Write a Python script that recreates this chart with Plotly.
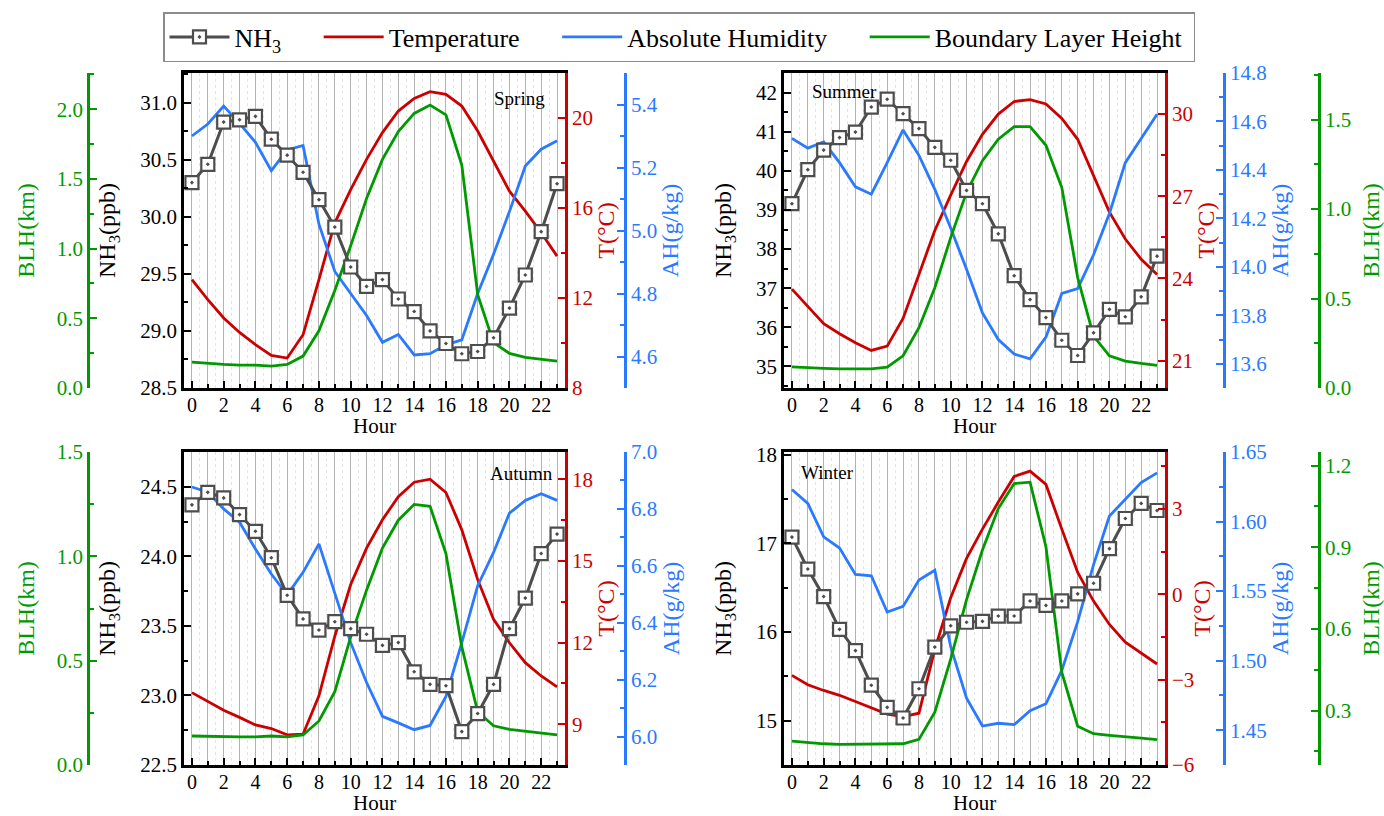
import plotly.graph_objects as go

# %% Data ----------------------------------------------------------------------
hours = list(range(24))

nh3_spring = [30.30, 30.46, 30.83, 30.85, 30.88, 30.68, 30.54, 30.39, 30.15, 29.91, 29.56, 29.39,
              29.45, 29.28, 29.17, 29.00, 28.89, 28.80, 28.82, 28.94, 29.20, 29.49, 29.87, 30.29]
temp_spring = [12.82, 11.93, 11.11, 10.47, 9.93, 9.45, 9.33, 10.37, 12.82, 15.34, 16.82, 18.16,
               19.35, 20.31, 20.87, 21.17, 21.05, 20.53, 19.42, 18.08, 16.75, 15.86, 14.90, 13.86]
ah_spring = [5.300, 5.338, 5.395, 5.340, 5.280, 5.190, 5.256, 5.270, 5.020, 4.870, 4.800, 4.730,
             4.645, 4.670, 4.605, 4.609, 4.637, 4.653, 4.800, 4.925, 5.060, 5.205, 5.258, 5.285]
blh_spring = [0.185, 0.176, 0.169, 0.164, 0.164, 0.157, 0.169, 0.229, 0.41, 0.70, 1.02, 1.36,
              1.64, 1.84, 1.97, 2.03, 1.96, 1.60, 0.67, 0.325, 0.248, 0.22, 0.205, 0.193]

nh3_summer = [39.16, 40.03, 40.53, 40.85, 40.99, 41.63, 41.83, 41.46, 41.08, 40.60, 40.27, 39.50,
              39.16, 38.39, 37.32, 36.71, 36.25, 35.67, 35.28, 35.86, 36.46, 36.27, 36.78, 37.82]
temp_summer = [23.61, 22.97, 22.35, 21.98, 21.65, 21.37, 21.53, 22.54, 24.14, 25.75, 27.04, 28.27,
               29.26, 30.00, 30.46, 30.53, 30.37, 29.84, 29.08, 27.78, 26.42, 25.44, 24.70, 24.14]
ah_summer = [14.53, 14.49, 14.516, 14.43, 14.33, 14.30, 14.43, 14.565, 14.46, 14.32, 14.16, 13.99,
             13.81, 13.70, 13.64, 13.62, 13.71, 13.89, 13.91, 14.05, 14.22, 14.43, 14.53, 14.63]
blh_summer = [0.118, 0.112, 0.110, 0.107, 0.107, 0.107, 0.116, 0.18, 0.337, 0.56, 0.84, 1.094,
              1.27, 1.39, 1.46, 1.46, 1.356, 1.12, 0.617, 0.29, 0.18, 0.15, 0.137, 0.126]

nh3_autumn = [24.37, 24.46, 24.42, 24.30, 24.18, 23.99, 23.72, 23.55, 23.47, 23.53, 23.48, 23.44,
              23.36, 23.38, 23.17, 23.08, 23.07, 22.74, 22.87, 23.08, 23.48, 23.70, 24.02, 24.16]
temp_autumn = [10.16, 9.83, 9.51, 9.25, 8.97, 8.84, 8.61, 8.63, 10.04, 12.23, 14.13, 15.47,
               16.51, 17.36, 17.89, 18.00, 17.51, 16.14, 14.31, 12.85, 11.99, 11.26, 10.77, 10.37]
ah_autumn = [6.877, 6.859, 6.800, 6.753, 6.659, 6.571, 6.498, 6.577, 6.677, 6.506, 6.330, 6.190,
             6.071, 6.048, 6.024, 6.039, 6.141, 6.330, 6.530, 6.647, 6.785, 6.830, 6.853, 6.830]
blh_autumn = [0.139, 0.137, 0.135, 0.135, 0.135, 0.139, 0.135, 0.144, 0.211, 0.351, 0.614, 0.838,
              1.04, 1.173, 1.249, 1.24, 1.013, 0.566, 0.255, 0.188, 0.171, 0.163, 0.152, 0.144]

nh3_winter = [17.07, 16.71, 16.40, 16.03, 15.79, 15.40, 15.15, 15.03, 15.36, 15.83, 16.07, 16.11,
              16.12, 16.18, 16.18, 16.35, 16.30, 16.35, 16.43, 16.55, 16.94, 17.28, 17.45, 17.37]
temp_winter = [-2.85, -3.18, -3.38, -3.55, -3.77, -4.00, -4.21, -4.30, -4.18, -1.94, -0.12, 1.26,
               2.29, 3.24, 4.14, 4.33, 3.86, 2.29, 0.77, -0.24, -1.06, -1.68, -2.06, -2.45]
ah_winter = [1.623, 1.613, 1.589, 1.581, 1.562, 1.561, 1.535, 1.539, 1.558, 1.565, 1.510, 1.473,
             1.453, 1.455, 1.454, 1.464, 1.469, 1.493, 1.528, 1.569, 1.604, 1.616, 1.628, 1.635]
blh_winter = [0.188, 0.182, 0.178, 0.176, 0.176, 0.176, 0.178, 0.178, 0.194, 0.294, 0.489, 0.708,
              0.89, 1.042, 1.134, 1.139, 0.902, 0.44, 0.242, 0.215, 0.209, 0.205, 0.199, 0.193]

# %% Style / layout -------------------------------------------------------------
W, H = 1384, 816
FONT = "Liberation Serif"
C_NH3 = "#4d4d4d"
C_T = "#cc0000"
C_AH = "#2a7aff"
C_BLH = "#009a00"
TICK = 21
TITLE = 24
PAD = "\u00a0"  # keeps legend entries spaced like the original

top_y = [1 - 388 / H, 1 - 73 / H]
bot_y = [1 - 765 / H, 1 - 452 / H]
left_x = [184 / W, 565 / W]
right_x = [784 / W, 1165 / W]

panels = [
    dict(label="Spring", nh3=nh3_spring, t=temp_spring, ah=ah_spring, blh=blh_spring,
         xdom=left_x, ydom=top_y, ah_pos=625 / W, blh_pos=88 / W, blh_side="left",
         nh3_rng=[28.5, 31.26], nh3_dt=0.5, nh3_fmt=".1f",
         t_rng=[8, 22], t_dt=4, ah_rng=[4.5, 5.5], ah_dt=0.2, ah_t0=4.6, ah_fmt=".1f",
         blh_rng=[0, 2.26], blh_dt=0.5, blh_t0=0, lab=(0.88, 0.92), hour_dy=-38),
    dict(label="Summer", nh3=nh3_summer, t=temp_summer, ah=ah_summer, blh=blh_summer,
         xdom=right_x, ydom=top_y, ah_pos=1224 / W, blh_pos=1319 / W, blh_side="right",
         nh3_rng=[34.45, 42.5], nh3_dt=1, nh3_fmt="d",
         t_rng=[20, 31.5], t_dt=3, ah_rng=[13.5, 14.8], ah_dt=0.2, ah_t0=13.6, ah_fmt=".1f",
         blh_rng=[0, 1.76], blh_dt=0.5, blh_t0=0, lab=(0.16, 0.94), hour_dy=-38),
    dict(label="Autumn", nh3=nh3_autumn, t=temp_autumn, ah=ah_autumn, blh=blh_autumn,
         xdom=left_x, ydom=bot_y, ah_pos=625 / W, blh_pos=88 / W, blh_side="left",
         nh3_rng=[22.5, 24.75], nh3_dt=0.5, nh3_fmt=".1f",
         t_rng=[7.5, 19], t_dt=3, ah_rng=[5.9, 7.0], ah_dt=0.2, ah_t0=6.0, ah_fmt=".1f",
         blh_rng=[0, 1.5], blh_dt=0.5, blh_t0=0, lab=(0.885, 0.93), hour_dy=-38),
    dict(label="Winter", nh3=nh3_winter, t=temp_winter, ah=ah_winter, blh=blh_winter,
         xdom=right_x, ydom=bot_y, ah_pos=1224 / W, blh_pos=1319 / W, blh_side="right",
         nh3_rng=[14.5, 18.03], nh3_dt=1, nh3_fmt="d",
         t_rng=[-6, 5], t_dt=3, ah_rng=[1.425, 1.65], ah_dt=0.05, ah_t0=1.45, ah_fmt=".2f",
         blh_rng=[0.1, 1.25], blh_dt=0.3, blh_t0=0.3, lab=(0.115, 0.936), hour_dy=-38),
]


def ref(kind, n):
    return kind if n == 1 else f"{kind}{n}"


def lkey(kind, n):
    return f"{kind}axis" if n == 1 else f"{kind}axis{n}"


def yaxis_style(color, rng, dt, t0, fmt, title, standoff):
    return dict(
        range=rng, dtick=dt, tick0=t0, tickformat=fmt,
        showline=True, linecolor=color, linewidth=2.5,
        ticks="inside", ticklen=7, tickwidth=2, tickcolor=color,
        minor=dict(ticks="inside", ticklen=4, tickwidth=2, tickcolor=color, dtick=dt / 2),
        tickfont=dict(family=FONT, size=TICK, color=color),
        title=dict(text=title, font=dict(family=FONT, size=TITLE, color=color), standoff=standoff),
        showgrid=False, zeroline=False, automargin=False,
    )


fig = go.Figure()
layout = {}
annotations = []

for i, p in enumerate(panels):
    xn = i + 1
    gx = 5 + i
    yt, yah, yblh, ynh3 = 4 * i + 1, 4 * i + 2, 4 * i + 3, 4 * i + 4
    show = i == 0

    # invisible carrier so the half-hour grid axis gets drawn
    fig.add_trace(go.Scatter(x=hours, y=p["t"], mode="lines", opacity=0, hoverinfo="skip",
                             showlegend=False, xaxis=ref("x", gx), yaxis=ref("y", yt)))
    fig.add_trace(go.Scatter(x=hours, y=p["t"], name="Temperature" + PAD * 5, mode="lines",
                             line=dict(color=C_T, width=2.8), showlegend=show,
                             xaxis=ref("x", xn), yaxis=ref("y", yt)))
    fig.add_trace(go.Scatter(x=hours, y=p["ah"], name="Absolute Humidity" + PAD * 5, mode="lines",
                             line=dict(color=C_AH, width=2.8), showlegend=show,
                             xaxis=ref("x", xn), yaxis=ref("y", yah)))
    fig.add_trace(go.Scatter(x=hours, y=p["blh"], name="Boundary Layer Height" + PAD, mode="lines",
                             line=dict(color=C_BLH, width=2.8), showlegend=show,
                             xaxis=ref("x", xn), yaxis=ref("y", yblh)))
    fig.add_trace(go.Scatter(x=hours, y=p["nh3"], name="NH<sub>3</sub>" + PAD * 5,
                             mode="lines+markers",
                             line=dict(color=C_NH3, width=3),
                             marker=dict(symbol="square-dot", size=13, color="white",
                                         line=dict(color=C_NH3, width=2.2)),
                             showlegend=show, legendrank=1,
                             xaxis=ref("x", xn), yaxis=ref("y", ynh3)))

    layout[lkey("x", xn)] = dict(
        domain=p["xdom"], anchor=ref("y", yt), range=[-0.5, 23.5],
        dtick=2, tick0=0, ticks="inside", ticklen=7, tickwidth=2, tickcolor="black",
        showgrid=True, gridcolor="#b3b3b3", gridwidth=1,
        minor=dict(dtick=1, ticks="inside", ticklen=4, tickwidth=2, tickcolor="black",
                   showgrid=True, gridcolor="#b3b3b3", gridwidth=1),
        showline=True, mirror=True, linecolor="black", linewidth=2.5,
        tickfont=dict(family=FONT, size=20, color="black"), ticklabelstandoff=-3,
        zeroline=False, automargin=False,
    )
    # dotted half-hour grid
    layout[lkey("x", gx)] = dict(
        overlaying=ref("x", xn), anchor=ref("y", yt), range=[-0.5, 23.5],
        dtick=1, tick0=0.5, showgrid=True, gridcolor="#e4e4e4", griddash="dot", gridwidth=1,
        showticklabels=False, ticks="", showline=False, zeroline=False,
    )

    yt_ax = yaxis_style(C_T, p["t_rng"], p["t_dt"], 0, "d", "T(°C)", 0)
    yt_ax.update(domain=p["ydom"], anchor=ref("x", xn), side="right")
    layout[lkey("y", yt)] = yt_ax

    yah_ax = yaxis_style(C_AH, p["ah_rng"], p["ah_dt"], p["ah_t0"], p["ah_fmt"], "AH(g/kg)", 4)
    yah_ax.update(overlaying=ref("y", yt), anchor="free", position=p["ah_pos"], side="right")
    layout[lkey("y", yah)] = yah_ax

    yb_ax = yaxis_style(C_BLH, p["blh_rng"], p["blh_dt"], p["blh_t0"], ".1f", "BLH(km)", 14)
    yb_ax.update(overlaying=ref("y", yt), anchor="free", position=p["blh_pos"], side=p["blh_side"])
    layout[lkey("y", yblh)] = yb_ax

    yn_ax = yaxis_style("black", p["nh3_rng"], p["nh3_dt"], 0, p["nh3_fmt"], "NH<sub>3</sub>(ppb)", 18)
    yn_ax.update(overlaying=ref("y", yt), anchor=ref("x", xn), side="left")
    layout[lkey("y", ynh3)] = yn_ax

    annotations.append(dict(
        text=p["label"], x=p["lab"][0], y=p["lab"][1],
        xref=f"{ref('x', xn)} domain", yref=f"{ref('y', yt)} domain",
        showarrow=False, xanchor="center", yanchor="middle",
        font=dict(family=FONT, size=19, color="black"),
    ))
    annotations.append(dict(
        text="Hour", x=0.5, y=0, yshift=p["hour_dy"],
        xref=f"{ref('x', xn)} domain", yref=f"{ref('y', yt)} domain",
        showarrow=False, xanchor="center", yanchor="middle",
        font=dict(family=FONT, size=21, color="black"),
    ))

fig.update_layout(**layout)
fig.update_layout(
    width=W, height=H,
    margin=dict(l=0, r=0, t=0, b=0),
    paper_bgcolor="white", plot_bgcolor="rgba(0,0,0,0)",
    font=dict(family=FONT, color="black"),
    annotations=annotations,
    showlegend=True,
    legend=dict(
        orientation="h", x=163 / W, xanchor="left", y=1 - 12 / H, yanchor="top",
        font=dict(family=FONT, size=26, color="black"),
        bordercolor="#8c8c8c", borderwidth=1.5, bgcolor="white",
        itemwidth=60, traceorder="normal",
    ),
)

# the page's default body margin would shift the figure by 8px
fig.write_html("out.html", config={"displayModeBar": False},
               post_script="document.body.style.margin='0';"
                           "document.body.style.overflow='hidden';")
